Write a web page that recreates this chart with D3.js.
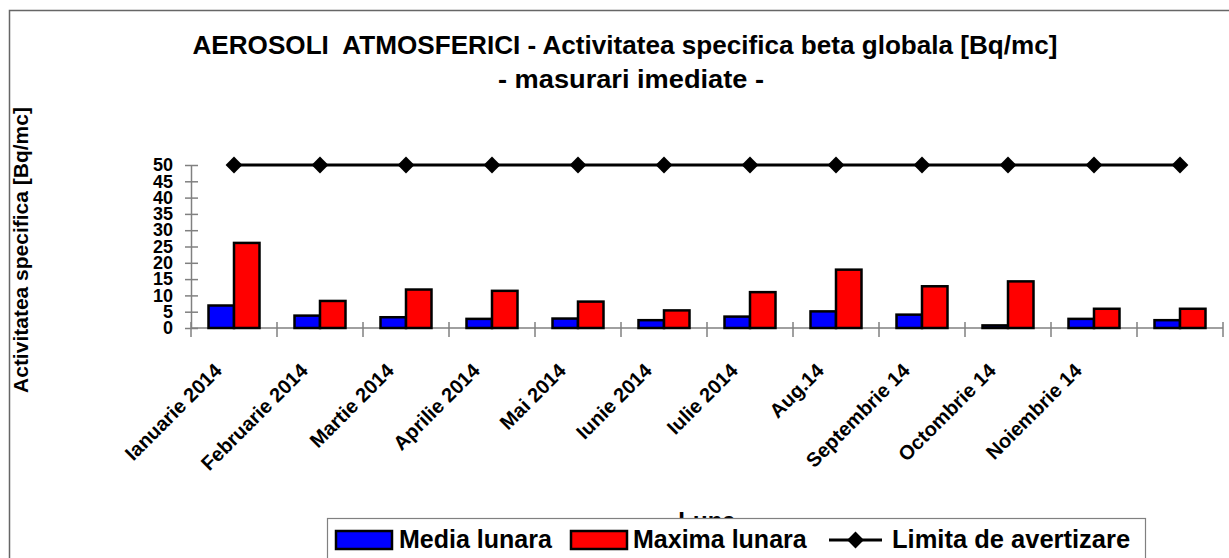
<!DOCTYPE html>
<html lang="en">
<head>
    <meta charset="UTF-8">
    <title>Aerosoli atmosferici</title>
    <style>
        body { margin: 0; background: #fff; }
        text { font-family: "Liberation Sans", Arial, sans-serif; font-weight: bold; }
    </style>
</head>
<script src="https://d3js.org/d3.v7.min.js"></script>
<body>
<script>
    // luni (ultima eticheta lipseste in original)
    var luni = ["Ianuarie 2014", "Februarie 2014", "Martie 2014", "Aprilie 2014", "Mai 2014",
        "Iunie 2014", "Iulie 2014", "Aug.14", "Septembrie 14", "Octombrie 14", "Noiembrie 14", ""];
    var mediaLunara = [6.9, 3.8, 3.3, 2.8, 2.9, 2.4, 3.5, 5.1, 4.1, 0.8, 2.8, 2.4];
    var maximaLunara = [26.1, 8.3, 11.8, 11.4, 8.1, 5.4, 11.0, 17.9, 12.8, 14.3, 5.9, 5.9];
    var limita = [50, 50, 50, 50, 50, 50, 50, 50, 50, 50, 50, 50];
    var yTicks = [0, 5, 10, 15, 20, 25, 30, 35, 40, 45, 50];

    var width = 1229, height = 558;
    var plotLeft = 191, plotRight = 1223, plotTop = 165, plotBottom = 328;

    var svg = d3.select("body")
        .append("svg")
        .attr("width", width)
        .attr("height", height);

    // chenar
    svg.append("path")
        .attr("d", "M9.5," + height + "V10.5H" + width)
        .attr("fill", "none")
        .attr("stroke", "#666")
        .attr("stroke-width", 1.5);

    svg.append("text")
        .attr("x", 625).attr("y", 54)
        .attr("text-anchor", "middle")
        .attr("font-size", "25px")
        .attr("textLength", 865)
        .attr("lengthAdjust", "spacingAndGlyphs")
        .style("white-space", "pre")
        .text("AEROSOLI  ATMOSFERICI - Activitatea specifica beta globala [Bq/mc]");
    svg.append("text")
        .attr("x", 631).attr("y", 88)
        .attr("text-anchor", "middle")
        .attr("font-size", "25px")
        .attr("textLength", 266)
        .attr("lengthAdjust", "spacingAndGlyphs")
        .text("- masurari imediate -");

    var idx = d3.range(luni.length);
    var x = d3.scaleBand().domain(idx).range([plotLeft, plotRight]);
    var xSub = d3.scaleBand().domain(["media", "maxima"]).range([17.5, 68.5]);
    var y = d3.scaleLinear().domain([0, 50]).range([plotBottom, plotTop]);

    // axa Y
    var gy = svg.append("g")
        .attr("transform", "translate(" + plotLeft + ",0)")
        .call(d3.axisLeft(y).tickValues(yTicks).tickSize(6).tickPadding(12).tickSizeOuter(0));
    gy.select(".domain").attr("stroke", "#808080").attr("stroke-width", 1.5);
    gy.selectAll(".tick line").attr("x1", -6).attr("x2", 7).attr("stroke", "#808080").attr("stroke-width", 1.5);
    gy.selectAll(".tick text")
        .attr("font-size", "18px")
        .attr("fill", "#000")
        .style("font-family", "'Liberation Sans', Arial, sans-serif")
        .style("font-weight", "bold");

    // axa X
    svg.append("line")
        .attr("x1", plotLeft).attr("x2", plotRight)
        .attr("y1", plotBottom).attr("y2", plotBottom)
        .attr("stroke", "#808080").attr("stroke-width", 1.5);
    svg.selectAll(".xtick")
        .data(d3.range(luni.length + 1))
        .enter().append("line")
        .attr("class", "xtick")
        .attr("x1", function (d) { return plotLeft + d * x.step(); })
        .attr("x2", function (d) { return plotLeft + d * x.step(); })
        .attr("y1", plotBottom - 6).attr("y2", plotBottom + 9)
        .attr("stroke", "#808080").attr("stroke-width", 1.5);

    svg.selectAll(".xlabel")
        .data(idx)
        .enter().append("text")
        .attr("class", "xlabel")
        .attr("text-anchor", "end")
        .attr("font-size", "20px")
        .attr("transform", function (d) {
            return "translate(" + (x(d) + x.bandwidth() / 2 - 11) + "," + (plotBottom + 44) + ") rotate(-45)";
        })
        .text(function (d) { return luni[d]; });

    // bare
    var serii = [
        {key: "media", values: mediaLunara, color: "#0000ff"},
        {key: "maxima", values: maximaLunara, color: "#ff0000"}
    ];
    serii.forEach(function (s) {
        svg.selectAll(".bar-" + s.key)
            .data(idx)
            .enter().append("rect")
            .attr("class", "bar-" + s.key)
            .attr("x", function (d) { return x(d) + xSub(s.key); })
            .attr("y", function (d) { return y(s.values[d]); })
            .attr("width", xSub.bandwidth())
            .attr("height", function (d) { return plotBottom - y(s.values[d]); })
            .attr("fill", s.color)
            .attr("stroke", "#000")
            .attr("stroke-width", 2.5);
    });

    // limita de avertizare
    var line = d3.line()
        .x(function (d) { return x(d) + x.bandwidth() / 2; })
        .y(function (d) { return y(limita[d]); });
    svg.append("path")
        .datum(idx)
        .attr("d", line)
        .attr("fill", "none")
        .attr("stroke", "#000")
        .attr("stroke-width", 3);
    var diamond = d3.symbol().type(d3.symbolDiamond2).size(180);
    svg.selectAll(".marker")
        .data(idx)
        .enter().append("path")
        .attr("class", "marker")
        .attr("d", diamond)
        .attr("transform", function (d) {
            return "translate(" + (x(d) + x.bandwidth() / 2) + "," + y(limita[d]) + ")";
        })
        .attr("fill", "#000");

    // titlu axe
    svg.append("text")
        .attr("transform", "translate(28,250) rotate(-90)")
        .attr("text-anchor", "middle")
        .attr("font-size", "21px")
        .text("Activitatea specifica [Bq/mc]");
    svg.append("text")
        .attr("x", 707).attr("y", 529)
        .attr("text-anchor", "middle")
        .attr("font-size", "24px")
        .text("Luna");

    // legenda
    var leg = svg.append("g");
    leg.append("rect")
        .attr("x", 327.5).attr("y", 518.5)
        .attr("width", 818).attr("height", 60)
        .attr("fill", "#fff")
        .attr("stroke", "#808080")
        .attr("stroke-width", 1.2);
    leg.append("rect").attr("x", 336).attr("y", 531).attr("width", 56).attr("height", 18)
        .attr("fill", "#0000ff").attr("stroke", "#000").attr("stroke-width", 2.5);
    leg.append("text").attr("x", 399).attr("y", 548).attr("font-size", "25px").text("Media lunara");
    leg.append("rect").attr("x", 571).attr("y", 531).attr("width", 56).attr("height", 18)
        .attr("fill", "#ff0000").attr("stroke", "#000").attr("stroke-width", 2.5);
    leg.append("text").attr("x", 633).attr("y", 548).attr("font-size", "25px").text("Maxima lunara");
    leg.append("line").attr("x1", 829).attr("x2", 882).attr("y1", 540).attr("y2", 540)
        .attr("stroke", "#000").attr("stroke-width", 3);
    leg.append("path").attr("d", diamond).attr("transform", "translate(855.5,540)").attr("fill", "#000");
    leg.append("text").attr("x", 892).attr("y", 548).attr("font-size", "25.5px").text("Limita de avertizare");
</script>
</body>
</html>
